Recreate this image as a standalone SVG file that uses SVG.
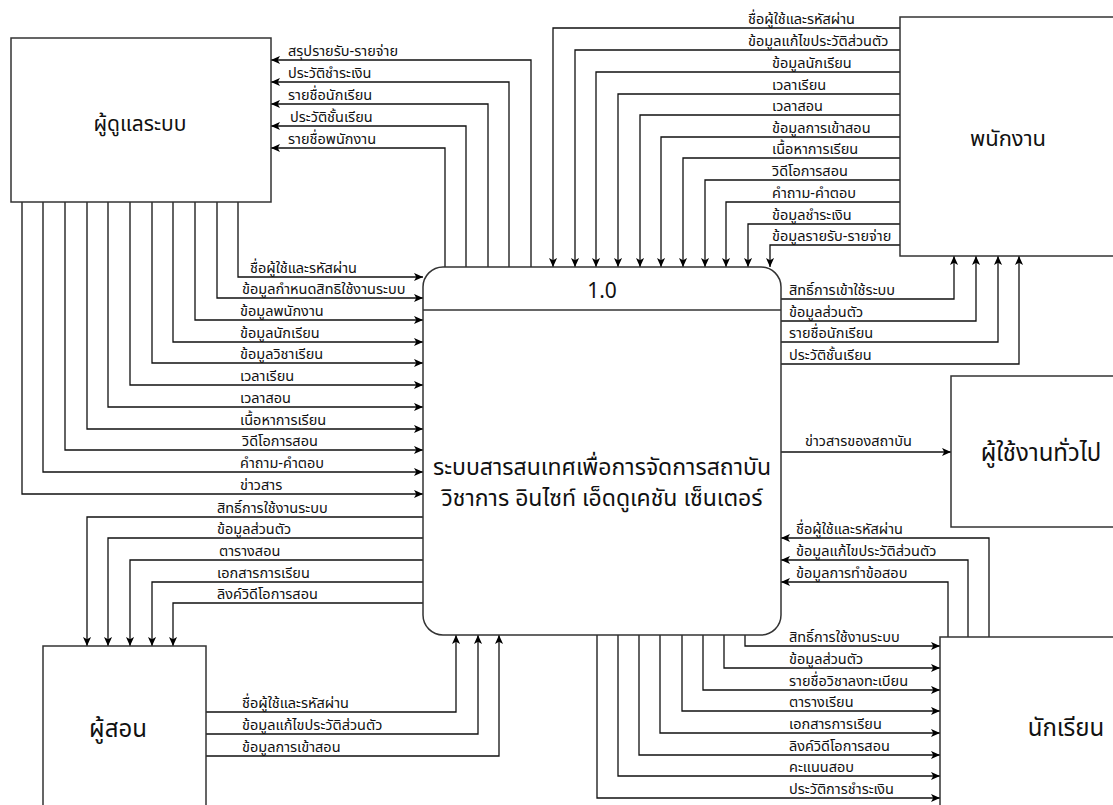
<svg xmlns="http://www.w3.org/2000/svg" width="1113" height="805" viewBox="0 0 1113 805">
<defs>
<marker id="ah" viewBox="0 0 10 10" refX="10" refY="5" markerWidth="9" markerHeight="9" markerUnits="userSpaceOnUse" orient="auto">
<path d="M0,0.5 L10,5 L0,9.5 L2.5,5 z" fill="#000"/>
</marker>
<style>
.box{fill:#fff;stroke:#333;stroke-width:1.5}
.c{fill:none;stroke:#111;stroke-width:1.3}
.a{marker-end:url(#ah)}
.t{font-family:"Noto Sans Thai","Noto Sans","DejaVu Sans",sans-serif;font-size:14.5px;fill:#111}
.big{font-family:"Noto Sans Thai","Noto Sans","DejaVu Sans",sans-serif;font-size:21px;fill:#111;text-anchor:middle}
</style>
</defs>
<rect width="1113" height="805" fill="#fff"/>

<g id="connectors">
<!-- admin -> center -->
<path class="c a" d="M238,202 V277 H423"/>
<path class="c a" d="M217,202 V298 H423"/>
<path class="c a" d="M195,202 V320 H423"/>
<path class="c a" d="M173,202 V342 H423"/>
<path class="c a" d="M152,202 V363 H423"/>
<path class="c a" d="M130,202 V385 H423"/>
<path class="c a" d="M108,202 V407 H423"/>
<path class="c a" d="M87,202 V429 H423"/>
<path class="c a" d="M65,202 V450 H423"/>
<path class="c a" d="M43,202 V472 H423"/>
<path class="c a" d="M22,202 V494 H423"/>
<!-- center -> admin -->
<path class="c a" d="M531,267 V60 H271"/>
<path class="c a" d="M509,267 V82 H271"/>
<path class="c a" d="M488,267 V104 H271"/>
<path class="c a" d="M466,267 V126 H271"/>
<path class="c a" d="M445,267 V148 H271"/>
<!-- center -> teacher -->
<path class="c a" d="M423,517 H87 V646"/>
<path class="c a" d="M423,538 H108 V646"/>
<path class="c a" d="M423,560 H130 V646"/>
<path class="c a" d="M423,582 H152 V646"/>
<path class="c a" d="M423,603 H173 V646"/>
<!-- teacher -> center -->
<path class="c a" d="M206,712 H456 V635"/>
<path class="c a" d="M206,734 H478 V635"/>
<path class="c a" d="M206,756 H499 V635"/>
<!-- staff -> center -->
<path class="c a" d="M900,28 H553 V267"/>
<path class="c a" d="M900,50 H575 V267"/>
<path class="c a" d="M900,72 H596 V267"/>
<path class="c a" d="M900,94 H618 V267"/>
<path class="c a" d="M900,115 H640 V267"/>
<path class="c a" d="M900,137 H661 V267"/>
<path class="c a" d="M900,158 H683 V267"/>
<path class="c a" d="M900,180 H705 V267"/>
<path class="c a" d="M900,202 H726 V267"/>
<path class="c a" d="M900,224 H748 V267"/>
<path class="c a" d="M900,245 H770 V267"/>
<!-- center -> staff -->
<path class="c a" d="M781,299 H954 V256"/>
<path class="c a" d="M781,321 H976 V256"/>
<path class="c a" d="M781,342 H998 V256"/>
<path class="c a" d="M781,364 H1019 V256"/>
<!-- center -> general -->
<path class="c a" d="M781,452 H951"/>
<!-- student -> center -->
<path class="c a" d="M989,637 V538 H781"/>
<path class="c a" d="M968,637 V560 H781"/>
<path class="c a" d="M948,637 V582 H781"/>
<!-- center -> student -->
<path class="c a" d="M745,635 V646 H940"/>
<path class="c a" d="M724,635 V668 H940"/>
<path class="c a" d="M703,635 V690 H940"/>
<path class="c a" d="M682,635 V711 H940"/>
<path class="c a" d="M660,635 V733 H940"/>
<path class="c a" d="M639,635 V755 H940"/>
<path class="c a" d="M618,635 V776 H940"/>
<path class="c a" d="M597,635 V798 H940"/>
</g>

<g id="labels">
<text class="t" x="288" y="56">สรุปรายรับ-รายจ่าย</text>
<text class="t" x="288" y="78">ประวัติชำระเงิน</text>
<text class="t" x="288" y="100">รายชื่อนักเรียน</text>
<text class="t" x="290" y="122">ประวัติชั้นเรียน</text>
<text class="t" x="288" y="144">รายชื่อพนักงาน</text>

<text class="t" x="250" y="273">ชื่อผู้ใช้และรหัสผ่าน</text>
<text class="t" x="242" y="294">ข้อมูลกำหนดสิทธิใช้งานระบบ</text>
<text class="t" x="240" y="316">ข้อมูลพนักงาน</text>
<text class="t" x="240" y="338">ข้อมูลนักเรียน</text>
<text class="t" x="240" y="359">ข้อมูลวิชาเรียน</text>
<text class="t" x="240" y="381">เวลาเรียน</text>
<text class="t" x="240" y="403">เวลาสอน</text>
<text class="t" x="240" y="425">เนื้อหาการเรียน</text>
<text class="t" x="242" y="446">วิดีโอการสอน</text>
<text class="t" x="240" y="468">คำถาม-คำตอบ</text>
<text class="t" x="240" y="490">ข่าวสาร</text>

<text class="t" x="217" y="513">สิทธิ์การใช้งานระบบ</text>
<text class="t" x="217" y="534">ข้อมูลส่วนตัว</text>
<text class="t" x="219" y="556">ตารางสอน</text>
<text class="t" x="217" y="578">เอกสารการเรียน</text>
<text class="t" x="217" y="599">ลิงค์วิดีโอการสอน</text>

<text class="t" x="242" y="708">ชื่อผู้ใช้และรหัสผ่าน</text>
<text class="t" x="242" y="730">ข้อมูลแก้ไขประวัติส่วนตัว</text>
<text class="t" x="242" y="752">ข้อมูลการเข้าสอน</text>

<text class="t" x="748" y="24">ชื่อผู้ใช้และรหัสผ่าน</text>
<text class="t" x="748" y="46">ข้อมูลแก้ไขประวัติส่วนตัว</text>
<text class="t" x="772" y="68">ข้อมูลนักเรียน</text>
<text class="t" x="772" y="90">เวลาเรียน</text>
<text class="t" x="772" y="111">เวลาสอน</text>
<text class="t" x="772" y="133">ข้อมูลการเข้าสอน</text>
<text class="t" x="772" y="154">เนื้อหาการเรียน</text>
<text class="t" x="772" y="176">วิดีโอการสอน</text>
<text class="t" x="772" y="198">คำถาม-คำตอบ</text>
<text class="t" x="772" y="220">ข้อมูลชำระเงิน</text>
<text class="t" x="772" y="241">ข้อมูลรายรับ-รายจ่าย</text>

<text class="t" x="789" y="295">สิทธิ์การเข้าใช้ระบบ</text>
<text class="t" x="789" y="317">ข้อมูลส่วนตัว</text>
<text class="t" x="789" y="338">รายชื่อนักเรียน</text>
<text class="t" x="789" y="360">ประวัติชั้นเรียน</text>

<text class="t" x="805" y="446">ข่าวสารของสถาบัน</text>

<text class="t" x="796" y="534">ชื่อผู้ใช้และรหัสผ่าน</text>
<text class="t" x="796" y="556">ข้อมูลแก้ไขประวัติส่วนตัว</text>
<text class="t" x="796" y="578">ข้อมูลการทำข้อสอบ</text>

<text class="t" x="789" y="642">สิทธิ์การใช้งานระบบ</text>
<text class="t" x="789" y="664">ข้อมูลส่วนตัว</text>
<text class="t" x="789" y="686">รายชื่อวิชาลงทะเบียน</text>
<text class="t" x="789" y="707">ตารางเรียน</text>
<text class="t" x="789" y="729">เอกสารการเรียน</text>
<text class="t" x="789" y="751">ลิงค์วิดีโอการสอน</text>
<text class="t" x="789" y="772">คะแนนสอบ</text>
<text class="t" x="789" y="794">ประวัติการชำระเงิน</text>
</g>

<g id="admin">
<rect class="box" x="11" y="38" width="260" height="164"/>
<text class="big" x="140" y="131">ผู้ดูแลระบบ</text>
</g>
<g id="staff">
<rect class="box" x="900" y="17" width="216" height="239"/>
<text class="big" x="1008" y="146" style="font-size:22px">พนักงาน</text>
</g>
<g id="general">
<rect class="box" x="951" y="376" width="165" height="151"/>
<text class="big" x="1041" y="461" style="font-size:24px">ผู้ใช้งานทั่วไป</text>
</g>
<g id="student">
<rect class="box" x="940" y="637" width="180" height="172"/>
<text class="big" x="1066" y="736" style="font-size:24px">นักเรียน</text>
</g>
<g id="teacher">
<rect class="box" x="43" y="646" width="163" height="165"/>
<text class="big" x="118" y="737" style="font-size:24px">ผู้สอน</text>
</g>
<g id="process">
<rect class="box" x="423" y="267" width="358" height="368" rx="20" ry="20"/>
<line x1="423" y1="310" x2="781" y2="310" stroke="#333" stroke-width="1.3"/>
<text class="big" x="602" y="298">1.0</text>
<text class="big" x="602" y="475" style="font-size:23px">ระบบสารสนเทศเพื่อการจัดการสถาบัน</text>
<text class="big" x="602" y="506" style="font-size:23px">วิชาการ อินไซท์ เอ็ดดูเคชัน เซ็นเตอร์</text>
</g>
</svg>
